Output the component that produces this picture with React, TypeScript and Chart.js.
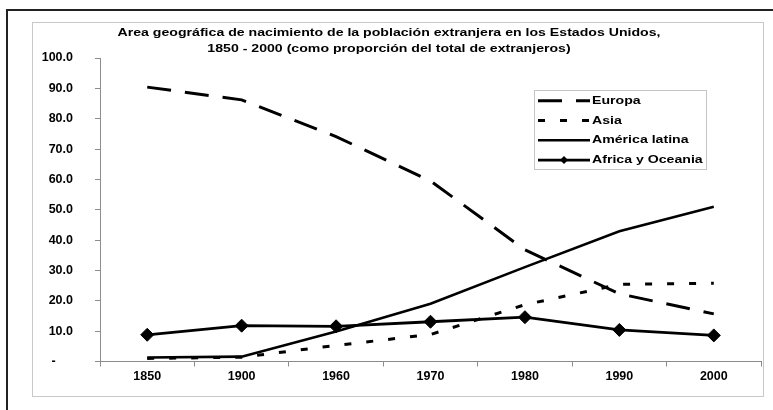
import React, { useEffect, useRef } from "react";
import { Chart, registerables } from "chart.js";

Chart.register(...registerables);

const titleLines = [
  "Area geográfica de nacimiento de la población extranjera en los Estados Unidos,",
  "1850 - 2000 (como proporción del total de extranjeros)",
];
const years = ["1850", "1900", "1960", "1970", "1980", "1990", "2000"];
const europa = [90.4, 86.2, 74.1, 59.5, 36.8, 22.3, 15.7];
const asia = [1.0, 1.4, 5.3, 8.9, 18.7, 25.4, 25.8];
const americaLatina = [1.3, 1.6, 9.9, 19.0, 31.1, 42.9, 51.0];
const africaOceania = [8.8, 11.8, 11.6, 13.1, 14.6, 10.4, 8.6];
const seriesNames = ["Europa", "Asia", "América latina", "Africa y Oceania"];

const FONT = '"Liberation Sans", Arial, sans-serif';
const TEXT_FONT = `bold 11.5px ${FONT}`;

function getStretch(ctx: CanvasRenderingContext2D) {
  ctx.font = TEXT_FONT;
  const w = ctx.measureText(titleLines[0]).width;
  return w > 0 ? 543 / w : 1;
}

function stretchedText(ctx: CanvasRenderingContext2D, text: string, x: number, y: number, sx: number, align: CanvasTextAlign) {
  ctx.save();
  ctx.translate(x, y);
  ctx.scale(sx, 1);
  ctx.font = TEXT_FONT;
  ctx.fillStyle = "#000";
  ctx.textAlign = align;
  ctx.textBaseline = "middle";
  ctx.fillText(text, 0, 0);
  ctx.restore();
}

const titlePlugin = {
  id: "customTitle",
  afterDraw(chart: any) {
    const ctx = chart.ctx;
    const sx = getStretch(ctx);
    stretchedText(ctx, titleLines[0], 389, 33, sx, "center");
    stretchedText(ctx, titleLines[1], 389, 49, sx, "center");
  },
};

const legendPlugin = {
  id: "customLegend",
  afterDatasetsDraw(chart: any) {
    const ctx = chart.ctx;
    const sx = getStretch(ctx);
    ctx.save();
    ctx.fillStyle = "#fff";
    ctx.fillRect(534.5, 90.5, 172, 79);
    ctx.strokeStyle = "#c4c4c4";
    ctx.lineWidth = 1;
    ctx.strokeRect(534.5, 90.5, 172, 79);
    chart.data.datasets.forEach((ds: any, i: number) => {
      const y = 100.7 + i * 19.8;
      ctx.save();
      ctx.strokeStyle = ds.borderColor;
      ctx.lineWidth = ds.borderWidth;
      ctx.lineCap = "butt";
      ctx.setLineDash(ds.borderDash || []);
      ctx.beginPath();
      ctx.moveTo(538, y);
      ctx.lineTo(590, y);
      ctx.stroke();
      ctx.setLineDash([]);
      if (ds.pointRadius > 0) {
        const r = 4;
        ctx.fillStyle = ds.pointBackgroundColor;
        ctx.beginPath();
        ctx.moveTo(564, y - r);
        ctx.lineTo(564 + r, y);
        ctx.lineTo(564, y + r);
        ctx.lineTo(564 - r, y);
        ctx.closePath();
        ctx.fill();
      }
      ctx.restore();
      stretchedText(ctx, seriesNames[i], 592, y, sx, "left");
    });
    ctx.restore();
  },
};

export default function App() {
  const ref = useRef<HTMLCanvasElement | null>(null);

  useEffect(() => {
    if (!ref.current) return;
    const axisColor = "#8c8c8c";
    const chart = new Chart(ref.current, {
      type: "line",
      data: {
        labels: years,
        datasets: [
          {
            label: seriesNames[0],
            data: europa,
            borderColor: "#000",
            backgroundColor: "#000",
            borderWidth: 3,
            borderDash: [24, 14],
            borderCapStyle: "butt",
            pointRadius: 0,
            tension: 0,
          },
          {
            label: seriesNames[1],
            data: asia,
            borderColor: "#000",
            backgroundColor: "#000",
            borderWidth: 3,
            borderDash: [7, 15],
            borderCapStyle: "butt",
            pointRadius: 0,
            tension: 0,
          },
          {
            label: seriesNames[2],
            data: americaLatina,
            borderColor: "#000",
            backgroundColor: "#000",
            borderWidth: 2.6,
            pointRadius: 0,
            tension: 0,
          },
          {
            label: seriesNames[3],
            data: africaOceania,
            borderColor: "#000",
            backgroundColor: "#000",
            borderWidth: 2.8,
            pointStyle: "rectRot",
            pointRadius: 6.5,
            pointBackgroundColor: "#000",
            pointBorderColor: "#000",
            pointBorderWidth: 1,
            tension: 0,
          },
        ] as any,
      },
      options: {
        animation: false,
        responsive: false,
        devicePixelRatio: 1,
        layout: { padding: { top: 58, left: 0, right: 12, bottom: 8 } },
        plugins: {
          legend: { display: false },
          title: { display: false },
          tooltip: { enabled: false },
        },
        scales: {
          x: {
            offset: true,
            grid: {
              offset: true,
              drawOnChartArea: false,
              drawTicks: true,
              tickLength: 5,
              color: axisColor,
            },
            border: { color: axisColor, width: 1 },
            ticks: {
              color: "#000",
              font: { family: FONT, size: 12.5, weight: "bold" },
              padding: 3,
              maxRotation: 0,
              autoSkip: false,
            },
            afterFit(scale: any) {
              scale.height = 40.5;
            },
          },
          y: {
            min: 0,
            max: 100,
            grid: {
              drawOnChartArea: false,
              drawTicks: true,
              tickLength: 5,
              color: axisColor,
            },
            border: { color: axisColor, width: 1 },
            ticks: {
              stepSize: 10,
              color: "#000",
              font: { family: FONT, size: 12.5, weight: "bold" },
              padding: 22,
              callback: (v: any) => (Number(v) === 0 ? "-     " : Number(v).toFixed(1)),
            },
            afterFit(scale: any) {
              scale.width = 100;
            },
          },
        },
      } as any,
      plugins: [titlePlugin, legendPlugin],
    });
    return () => chart.destroy();
  }, []);

  return (
    <div style={{ position: "fixed", left: 0, top: 0, width: 773, height: 410, background: "#fff", overflow: "hidden" }}>
      <div
        style={{
          position: "absolute",
          left: 6,
          top: 9,
          width: 800,
          height: 420,
          borderLeft: "2px solid #222",
          borderTop: "2px solid #222",
        }}
      />
      <div
        style={{
          position: "absolute",
          left: 32,
          top: 22,
          width: 730,
          height: 373,
          border: "1px solid #c8c8c8",
          background: "#fff",
        }}
      />
      <canvas
        ref={ref}
        width={773}
        height={410}
        style={{ position: "absolute", left: 0, top: 0, width: 773, height: 410 }}
      />
    </div>
  );
}
